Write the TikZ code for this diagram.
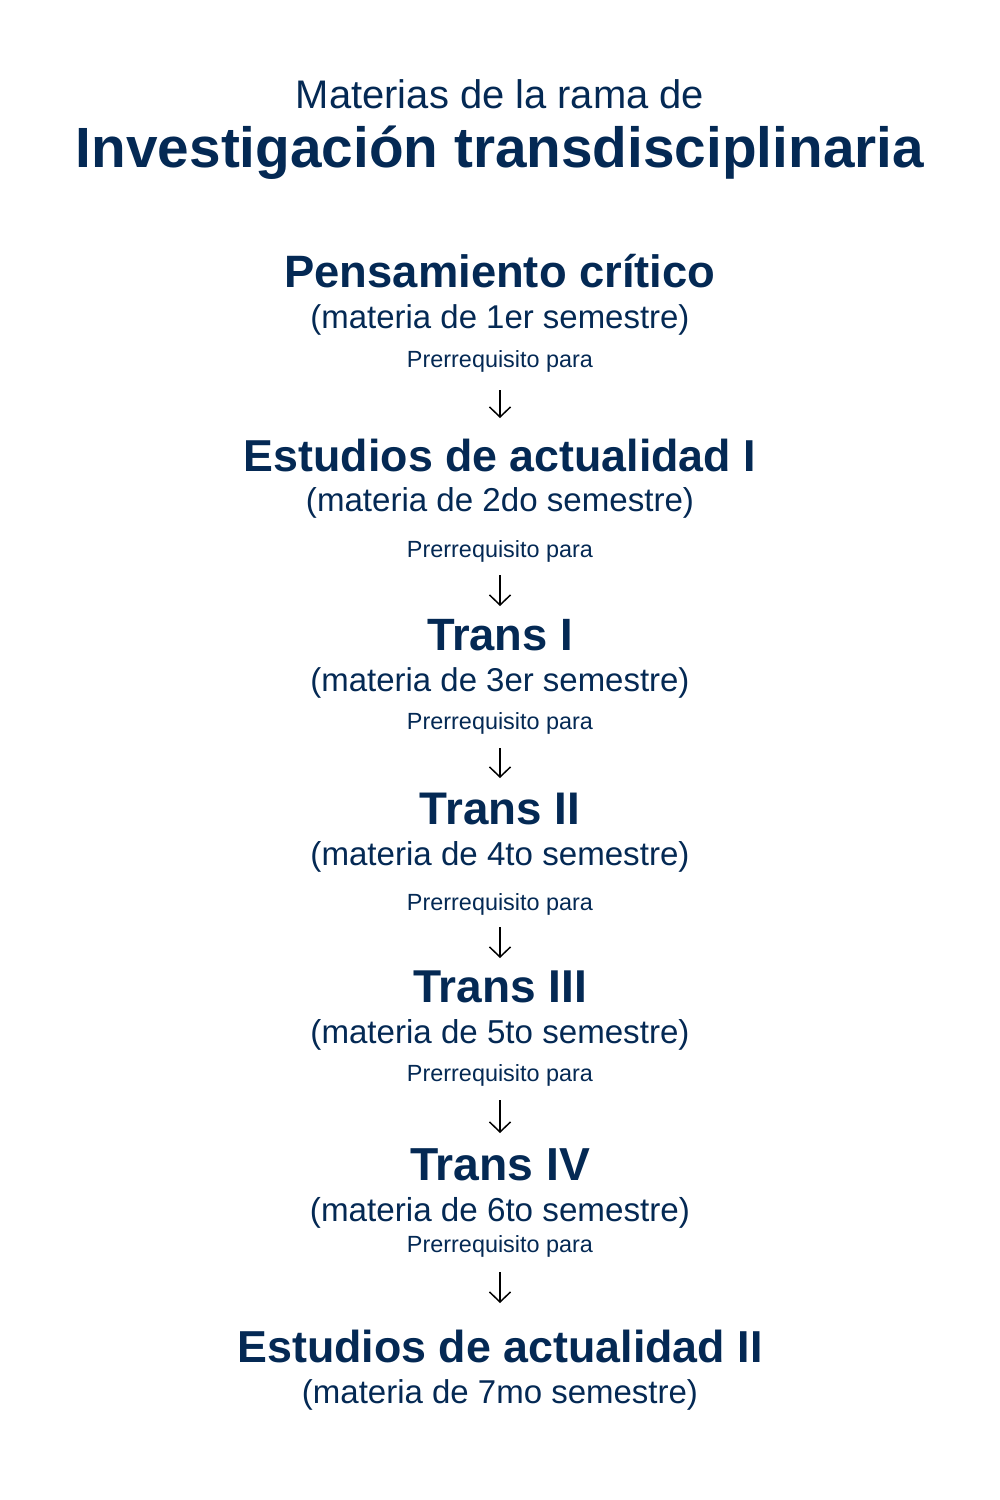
\documentclass[tikz,border=0pt]{standalone}
\usepackage{fontspec}
\setmainfont{Liberation Sans}
\usetikzlibrary{arrows.meta}
\definecolor{navy}{RGB}{4,41,84}
\newcommand{\fitw}[2]{\resizebox{#1pt}{!}{#2}}
\tikzset{
  txt/.style={inner sep=0pt, anchor=base, text=navy},
  ttl/.style={txt, font=\bfseries\fontsize{40}{48}\selectfont},
  sub/.style={txt, font=\fontsize{30}{36}\selectfont},
  pre/.style={txt, font=\fontsize{20}{24}\selectfont},
  arr/.style={draw=black, line width=1.7pt, -{Straight Barb[length=10pt,width=21pt,line width=1.5pt]}}
}
\begin{document}
\begin{tikzpicture}[x=1pt,y=-1pt]
\useasboundingbox[fill=white] (0,0) rectangle (1000,1500);
\node[sub] (h1) at (500,108) {\fitw{408}{Materias de la rama de}};
\node[ttl] (h2) at (500,167) {\fitw{848}{Investigación transdisciplinaria}};

\node[ttl] (t1) at (500,287) {\fitw{431}{Pensamiento crítico}};
\node[sub] (s1) at (500,328) {\fitw{379}{(materia de 1er semestre)}};
\node[pre] (p1) at (500,367) {\fitw{186}{Prerrequisito para}};
\coordinate (a1s) at (500,390); \coordinate (a1e) at (500,418);

\node[ttl] (t2) at (500,471) {\fitw{512}{Estudios de actualidad I}};
\node[sub] (s2) at (500,511) {\fitw{388}{(materia de 2do semestre)}};
\node[pre] (p2) at (500,557) {\fitw{186}{Prerrequisito para}};
\coordinate (a2s) at (500,575); \coordinate (a2e) at (500,606);

\node[ttl] (t3) at (500,650) {\fitw{146}{Trans I}};
\node[sub] (s3) at (500,691) {\fitw{379}{(materia de 3er semestre)}};
\node[pre] (p3) at (500,729) {\fitw{186}{Prerrequisito para}};
\coordinate (a3s) at (500,748); \coordinate (a3e) at (500,778);

\node[ttl] (t4) at (500,824) {\fitw{160}{Trans II}};
\node[sub] (s4) at (500,865) {\fitw{379}{(materia de 4to semestre)}};
\node[pre] (p4) at (500,910) {\fitw{186}{Prerrequisito para}};
\coordinate (a4s) at (500,927); \coordinate (a4e) at (500,958);

\node[ttl] (t5) at (500,1002) {\fitw{174}{Trans III}};
\node[sub] (s5) at (500,1043) {\fitw{379}{(materia de 5to semestre)}};
\node[pre] (p5) at (500,1081) {\fitw{186}{Prerrequisito para}};
\coordinate (a5s) at (500,1100); \coordinate (a5e) at (500,1133);

\node[ttl] (t6) at (500,1180) {\fitw{180}{Trans IV}};
\node[sub] (s6) at (500,1221) {\fitw{380}{(materia de 6to semestre)}};
\node[pre] (p6) at (500,1252) {\fitw{186}{Prerrequisito para}};
\coordinate (a6s) at (500,1272); \coordinate (a6e) at (500,1303);

\node[ttl] (t7) at (500,1362) {\fitw{525}{Estudios de actualidad II}};
\node[sub] (s7) at (500,1403) {\fitw{396}{(materia de 7mo semestre)}};

\foreach \i in {1,...,6} {\draw[arr] (a\i s) -- (a\i e);}
\end{tikzpicture}
\end{document}
